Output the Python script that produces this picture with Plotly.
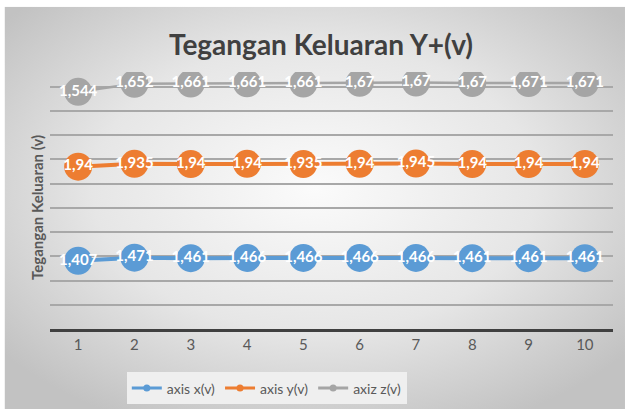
import base64
import plotly.graph_objects as go

categories = [1, 2, 3, 4, 5, 6, 7, 8, 9, 10]
axis_x = [1.407, 1.471, 1.461, 1.466, 1.466, 1.466, 1.466, 1.461, 1.461, 1.461]
axis_y = [1.94, 1.935, 1.94, 1.94, 1.935, 1.94, 1.945, 1.94, 1.94, 1.94]
axis_z = [1.544, 1.652, 1.661, 1.661, 1.661, 1.67, 1.67, 1.67, 1.671, 1.671]
series_names = ["axis x(v)", "axis y(v)", "axiz z(v)"]
colors = ["#5b9bd5", "#ed7d31", "#a5a5a5"]
line_widths = [4, 4, 2.5]

FONT = "Lato"


def fmt(v):
    s = ("%g" % v)
    return s.replace(".", ",")


fig = go.Figure()
for name, vals, col, lw in zip(series_names, [axis_x, axis_y, axis_z], colors, line_widths):
    fig.add_trace(go.Scatter(
        x=categories, y=vals, name=name, stackgroup="one", fill="none",
        mode="lines+markers+text",
        line=dict(color=col, width=lw),
        marker=dict(size=28, color=col),
        text=[fmt(v) for v in vals], textposition="middle center",
        textfont=dict(family=FONT, size=15, color="white", weight="bold"),
        showlegend=False, hoverinfo="skip",
    ))
    # legend sample
    fig.add_trace(go.Scatter(
        x=[None], y=[None], name=name, mode="lines+markers",
        line=dict(color=col, width=3), marker=dict(size=7, color=col),
        showlegend=True,
    ))

# background gradient (styling)
svg = ('<svg xmlns="http://www.w3.org/2000/svg" width="621" height="407" '
       'preserveAspectRatio="none"><defs><radialGradient id="g" cx="50%" cy="45%" r="65%">'
       '<stop offset="0" stop-color="#fbfbfb"/><stop offset="0.55" stop-color="#e6e6e6"/>'
       '<stop offset="1" stop-color="#c2c2c2"/></radialGradient></defs>'
       '<rect width="621" height="407" fill="url(#g)"/></svg>')
src = "data:image/svg+xml;base64," + base64.b64encode(svg.encode()).decode()

L, R, T, B = 49.5, 12, 72, 85
W, H = 625, 417
pw, ph = W - L - R, H - T - B
ymax = 5.3


def px_x(p):
    return (p - L) / pw


def px_y(p):
    return (H - B - p) / ph


fig.add_layout_image(dict(
    source=src, xref="paper", yref="paper",
    x=px_x(4), y=px_y(6), sizex=(625 - 4) / pw, sizey=(413 - 6) / ph,
    sizing="stretch", layer="below", xanchor="left", yanchor="top",
))

fig.add_annotation(
    text="Tegangan Keluaran (v)", xref="paper", yref="paper",
    x=px_x(37), y=px_y(209), textangle=-90, showarrow=False,
    font=dict(family=FONT, size=15, color="#595959", weight="bold"),
    xanchor="center", yanchor="middle",
)

fig.update_layout(
    width=W, height=H,
    margin=dict(l=L, r=R, t=T, b=B),
    paper_bgcolor="white", plot_bgcolor="rgba(0,0,0,0)",
    title=dict(text="Tegangan Keluaran Y+(v)", x=321 / W, xanchor="center",
               y=1 - 45 / H, yanchor="middle",
               font=dict(family=FONT, size=28, color="#404040", weight="bold")),
    xaxis=dict(range=[0.5, 10.5], tickvals=categories, ticktext=[str(c) for c in categories],
               showgrid=False, zeroline=False, showline=True, linecolor="#404040", linewidth=3,
               ticks="", tickfont=dict(family=FONT, size=15, color="#595959")),
    yaxis=dict(range=[0, ymax], dtick=0.5, tick0=0, showticklabels=False,
               showgrid=True, gridcolor="#a8a8a8", gridwidth=1.5, zeroline=False, showline=False),
    legend=dict(orientation="h", x=px_x(266.5), xanchor="center", y=px_y(376), yanchor="top",
                bgcolor="#efefef", font=dict(family=FONT, size=14, color="#595959"),
                itemwidth=30),
    showlegend=True,
)

fig.write_html("out.html", config={"displayModeBar": False},
               post_script="document.body.style.margin='0';document.body.style.overflow='hidden';")
